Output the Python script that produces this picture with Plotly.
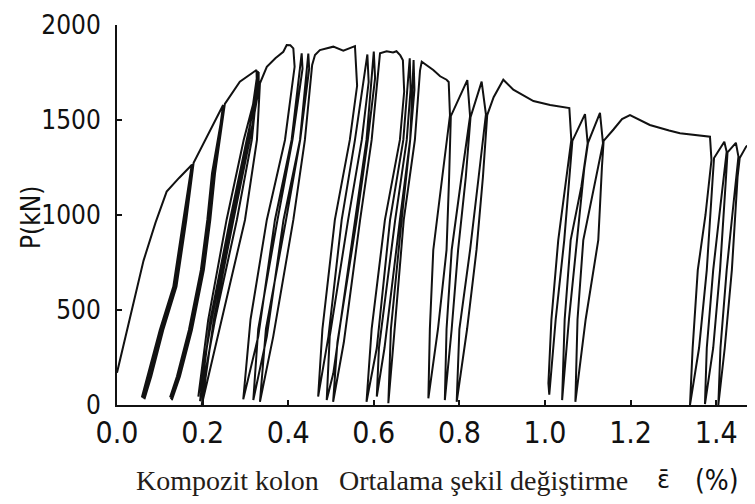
import plotly.graph_objects as go

# ---- Data: (average strain %, load kN), in test order ----
envelope_start = [(0.000, 170), (0.035, 500), (0.062, 760), (0.090, 960), (0.116, 1123),
                  (0.145, 1195), (0.1745, 1263)]

cycles_017 = [(0.155, 974), (0.1316, 623), (0.100, 395), (0.072, 150), (0.058, 40),
              (0.075, 150), (0.104, 395), (0.135, 623), (0.158, 974), (0.176, 1268),
              (0.157, 974), (0.133, 623), (0.102, 395), (0.074, 150), (0.061, 35),
              (0.078, 150), (0.106, 395), (0.137, 623), (0.160, 974), (0.177, 1266),
              (0.159, 974), (0.135, 623), (0.104, 395), (0.076, 150), (0.064, 30),
              (0.080, 150), (0.108, 395), (0.139, 623), (0.162, 974), (0.179, 1275),
              (0.210, 1412), (0.248, 1579)]

cycles_025 = [(0.242, 1480), (0.222, 1219), (0.211, 974), (0.196, 711), (0.168, 395), (0.140, 150), (0.124, 40),
              (0.143, 150), (0.171, 395), (0.199, 711), (0.214, 974), (0.225, 1219), (0.249, 1577),
              (0.243, 1480), (0.224, 1219), (0.213, 974), (0.198, 711), (0.170, 395), (0.142, 150), (0.126, 32),
              (0.145, 150), (0.173, 395), (0.201, 711), (0.216, 974), (0.227, 1219), (0.250, 1575),
              (0.244, 1480), (0.226, 1219), (0.215, 974), (0.200, 711), (0.172, 395), (0.144, 150), (0.128, 25),
              (0.147, 150), (0.175, 395), (0.203, 711), (0.218, 974), (0.229, 1219), (0.252, 1585),
              (0.287, 1702), (0.326, 1763)]

cycles_033 = [(0.327, 1660), (0.296, 1395), (0.256, 974), (0.213, 447), (0.190, 44),
              (0.221, 447), (0.268, 974), (0.306, 1395), (0.329, 1758),
              (0.329, 1660), (0.303, 1395), (0.264, 974), (0.218, 447), (0.194, 20),
              (0.229, 447), (0.280, 974), (0.315, 1395), (0.331, 1752),
              (0.331, 1660), (0.310, 1395), (0.272, 974), (0.226, 447), (0.198, 0),
              (0.245, 447), (0.299, 974), (0.327, 1395), (0.334, 1693),
              (0.350, 1780), (0.370, 1825), (0.3886, 1859), (0.3965, 1895), (0.405, 1893), (0.412, 1877)]

cycles_041 = [(0.415, 1780), (0.3925, 1395), (0.350, 974), (0.312, 450), (0.295, 30),
              (0.330, 360), (0.369, 974), (0.408, 1395), (0.4315, 1851),
              (0.4335, 1770), (0.410, 1395), (0.375, 974), (0.330, 400), (0.3185, 26),
              (0.350, 360), (0.389, 974), (0.4276, 1395), (0.447, 1850),
              (0.449, 1770), (0.428, 1395), (0.395, 974), (0.348, 400), (0.334, 17),
              (0.365, 360), (0.412, 974), (0.439, 1395), (0.456, 1790), (0.4626, 1842),
              (0.474, 1868), (0.5054, 1886), (0.5288, 1865), (0.545, 1880), (0.556, 1889)]

cycles_056 = [(0.561, 1680), (0.544, 1395), (0.509, 974), (0.480, 400), (0.470, 44),
              (0.494, 360), (0.525, 974), (0.556, 1395), (0.585, 1845),
              (0.588, 1700), (0.572, 1395), (0.540, 974), (0.497, 360), (0.490, 26),
              (0.5054, 167), (0.556, 974), (0.583, 1395), (0.600, 1860),
              (0.603, 1720), (0.586, 1395), (0.560, 974), (0.515, 330), (0.505, 17),
              (0.530, 330), (0.568, 974), (0.595, 1395), (0.610, 1780), (0.6145, 1851),
              (0.630, 1862), (0.645, 1855), (0.653, 1862), (0.662, 1840), (0.668, 1815)]

cycles_067 = [(0.671, 1650), (0.661, 1395), (0.626, 974), (0.595, 400), (0.583, 17),
              (0.607, 300), (0.638, 974), (0.669, 1395), (0.684, 1825),
              (0.686, 1660), (0.677, 1395), (0.650, 974), (0.612, 300), (0.607, 44),
              (0.625, 300), (0.661, 974), (0.685, 1395), (0.693, 1816),
              (0.695, 1660), (0.685, 1395), (0.665, 974), (0.640, 400), (0.634, 9),
              (0.645, 300), (0.670, 974), (0.696, 1395), (0.708, 1760), (0.712, 1807),
              (0.739, 1763), (0.755, 1730), (0.770, 1712), (0.775, 1700)]

cycles_078 = [(0.778, 1525), (0.760, 1200), (0.739, 816), (0.731, 400), (0.7275, 35),
              (0.750, 400), (0.770, 816), (0.776, 1200), (0.780, 1520), (0.8185, 1710),
              (0.825, 1520), (0.805, 1200), (0.782, 816), (0.770, 400), (0.766, 26),
              (0.782, 400), (0.797, 816), (0.815, 1200), (0.826, 1515), (0.852, 1702),
              (0.862, 1530), (0.845, 1200), (0.825, 816), (0.800, 400), (0.7937, 17),
              (0.818, 400), (0.840, 816), (0.855, 1200), (0.865, 1526), (0.880, 1620), (0.9026, 1712),
              (0.926, 1660), (0.973, 1600), (1.012, 1579), (1.0569, 1563)]

cycles_106 = [(1.0615, 1395), (1.050, 1200), (1.031, 868), (1.015, 450), (1.008, 114), (1.010, 55),
              (1.025, 450), (1.045, 868), (1.058, 1250), (1.064, 1390), (1.0935, 1531),
              (1.0997, 1378), (1.085, 1150), (1.060, 868), (1.046, 450), (1.040, 100), (1.040, 26),
              (1.056, 450), (1.075, 868), (1.092, 1250), (1.1005, 1380), (1.1285, 1538),
              (1.1355, 1378), (1.115, 1150), (1.0895, 868), (1.076, 450), (1.071, 100), (1.071, 17),
              (1.095, 450), (1.1245, 868), (1.133, 1250), (1.137, 1390), (1.160, 1450), (1.180, 1505), (1.1986, 1526),
              (1.245, 1474), (1.290, 1445), (1.3154, 1430), (1.3855, 1412)]

cycles_139 = [(1.389, 1289), (1.375, 1000), (1.357, 710), (1.345, 300), (1.3388, 0),
              (1.360, 300), (1.378, 710), (1.392, 1200), (1.395, 1300), (1.419, 1386),
              (1.4245, 1333), (1.410, 1050), (1.393, 710), (1.378, 300), (1.3738, 5),
              (1.393, 300), (1.409, 710), (1.423, 1200), (1.4265, 1330), (1.446, 1380),
              (1.452, 1307), (1.440, 1050), (1.4245, 710), (1.410, 300), (1.405, 0),
              (1.420, 300), (1.4366, 710), (1.450, 1200), (1.455, 1300), (1.470, 1360), (1.487, 1386), (1.500, 1400)]

x_ticks = [0.0, 0.2, 0.4, 0.6, 0.8, 1.0, 1.2, 1.4]
x_labels = ["0.0", "0.2", "0.4", "0.6", "0.8", "1.0", "1.2", "1.4"]
y_ticks = [0, 500, 1000, 1500, 2000]
y_labels = ["0", "500", "1000", "1500", "2000"]

segments = [envelope_start, cycles_017, cycles_025, cycles_033, cycles_041,
            cycles_056, cycles_067, cycles_078, cycles_106, cycles_139]
strain = [pt[0] for seg in segments for pt in seg]
load = [pt[1] for seg in segments for pt in seg]

fig = go.Figure(go.Scatter(x=strain, y=load, mode="lines",
                           line=dict(color="#111111", width=2),
                           hoverinfo="skip", showlegend=False))

tick_font = "Liberation Sans Narrow, DejaVu Sans Condensed, Arial Narrow, sans-serif"

# page body has an 8px default margin: figure is sized so the plot lands where the reference has it
PLOT_W = 638
fig.update_layout(
    width=747, height=496,
    margin=dict(l=109, r=0, t=17, b=99),
    paper_bgcolor="white", plot_bgcolor="white",
    xaxis=dict(range=[0, 1.4907], tickvals=x_ticks, ticktext=x_labels,
               showline=True, linecolor="#111", linewidth=2,
               ticks="inside", ticklen=5, tickwidth=1.5, tickcolor="#111",
               showgrid=False, zeroline=False, ticklabelstandoff=0,
               tickfont=dict(family=tick_font, size=30, color="#111")),
    yaxis=dict(range=[0, 2000], tickvals=y_ticks, ticktext=y_labels,
               showline=True, linecolor="#111", linewidth=2,
               ticks="inside", ticklen=5, tickwidth=1.5, tickcolor="#111",
               showgrid=False, zeroline=False, ticklabelstandoff=9,
               tickfont=dict(family=tick_font, size=26, color="#111")),
)

serif = "Liberation Serif, Times New Roman, serif"
title_color = "#241c18"
fig.add_annotation(text="Kompozit kolon", xref="paper", yref="paper",
                   x=(134 - 117) / PLOT_W, y=0, xanchor="left", yanchor="middle", yshift=-75,
                   showarrow=False, font=dict(family=serif, size=28, color=title_color))
fig.add_annotation(text="Ortalama şekil değiştirme", xref="paper", yref="paper",
                   x=(337 - 117) / PLOT_W, y=0, xanchor="left", yanchor="middle", yshift=-75,
                   showarrow=False, font=dict(family=serif, size=28, color=title_color))
fig.add_annotation(text="ε\u0304", xref="paper", yref="paper",
                   x=(663 - 117) / PLOT_W, y=0, xanchor="center", yanchor="middle", yshift=-75,
                   showarrow=False, font=dict(family="DejaVu Sans, sans-serif", size=24, color="#111"))
fig.add_annotation(text="(%)", xref="paper", yref="paper",
                   x=(693 - 117) / PLOT_W, y=0, xanchor="left", yanchor="middle", yshift=-75,
                   showarrow=False, font=dict(family=tick_font, size=28, color="#111"))
fig.add_annotation(text="P(kN)", xref="paper", yref="paper",
                   x=(31 - 117) / PLOT_W, y=(405 - 218) / 380, xanchor="center", yanchor="middle",
                   textangle=-90, showarrow=False,
                   font=dict(family=tick_font, size=26, color="#111"))

fig.write_html("out.html")
